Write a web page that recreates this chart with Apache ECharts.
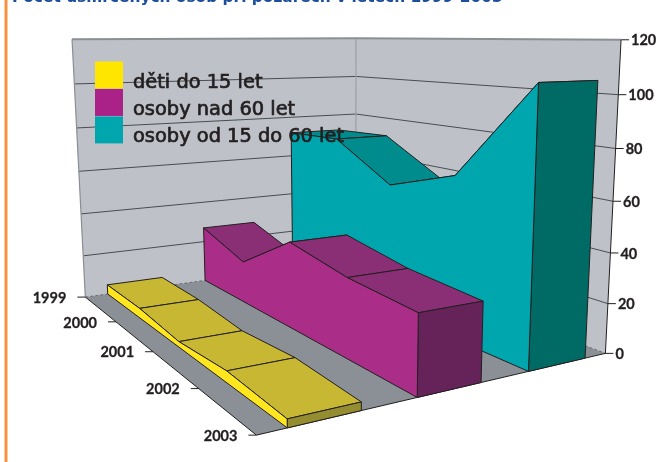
<!DOCTYPE html>
<html><head><meta charset="utf-8">
<style>html,body{margin:0;padding:0;background:#fff}#c{width:670px;height:462px}</style>
<script src="https://cdn.jsdelivr.net/npm/echarts@6/dist/echarts.min.js"></script>
</head><body><div id="c"></div>
<script>
const years = ['1999','2000','2001','2002','2003'];
const valueTicks = [0,20,40,60,80,100,120];
const children = [4.5,4.4,2.3,4.5,3];
const seniors = [27,19,37,32,30];
const adults = [72,73,57,67,105.5];
const seriesNames = ['děti do 15 let','osoby nad 60 let','osoby od 15 do 60 let'];
const titleText = 'Počet usmrcených osob při požárech v letech 1999-2003';

// Camera calibration of the 3D box: [year 0..1, depth 0..1, value 0..1] -> page
const calib = [
 [[0,0,0],[85,298]],[[1,0,0],[257,434]],[[1,1,0],[605,355]],[[0,1,0],[356,258]],
 [[0,0,1],[72,39]],[[0,1,1],[356,39]],[[1,1,1],[621,39]]
];
function solveCamera(pts){
  const A=[],b=[];
  pts.forEach(([[X,Y,Z],[x,y]])=>{
    x/=100;y/=100;
    A.push([X,Y,Z,1,0,0,0,0,-x*X,-x*Y,-x*Z]);b.push(x);
    A.push([0,0,0,0,X,Y,Z,1,-y*X,-y*Y,-y*Z]);b.push(y);
  });
  const n=11,M=[];
  for(let i=0;i<n;i++){M.push(new Array(n+1).fill(0));
    for(let j=0;j<n;j++)for(let r=0;r<A.length;r++)M[i][j]+=A[r][i]*A[r][j];
    for(let r=0;r<A.length;r++)M[i][n]+=A[r][i]*b[r];}
  for(let c=0;c<n;c++){let p=c;for(let r=c+1;r<n;r++)if(Math.abs(M[r][c])>Math.abs(M[p][c]))p=r;
    [M[c],M[p]]=[M[p],M[c]];
    for(let r=0;r<n;r++)if(r!==c){const f=M[r][c]/M[c][c];for(let k=c;k<=n;k++)M[r][k]-=f*M[c][k];}}
  return M.map((row,i)=>row[n]/row[i]);
}
const P=solveCamera(calib);
function proj(X,Y,Z){
  const d=P[8]*X+P[9]*Y+P[10]*Z+1;
  return [100*(P[0]*X+P[1]*Y+P[2]*Z+P[3])/d,100*(P[4]*X+P[5]*Y+P[6]*Z+P[7])/d];
}
const maxV=120;
const U=i=>i/(years.length-1);
const pt=(i,w,v)=>proj(U(i),w,v/maxV);
const LINE='#231f20';
function poly(points,fill,stroke,lw){return {type:'polygon',silent:true,shape:{points},style:{fill:fill,stroke:stroke||null,lineWidth:lw===undefined?1:lw,lineJoin:'round'}};}
function line(a,b,stroke,lw,dash){return {type:'line',silent:true,shape:{x1:a[0],y1:a[1],x2:b[0],y2:b[1]},style:{stroke,lineWidth:lw||1,lineDash:dash||null}};}
function txt(x,y,t,align,font){return {type:'text',silent:true,style:{x,y,text:t,align,verticalAlign:'middle',fill:LINE,font,stroke:LINE,lineWidth:0.3}};}

function renderBox(params,api){
  const ch=[];
  const wall='#bec2c8',floor='#8a9095',edge='#8b8e93';
  ch.push(poly([proj(0,0,0),proj(0,1,0),proj(0,1,1),proj(0,0,1)],wall));
  ch.push(poly([proj(0,1,0),proj(1,1,0),proj(1,1,1),proj(0,1,1)],wall));
  ch.push(poly([proj(0,0,0),proj(1,0,0),proj(1,1,0),proj(0,1,0)],floor));
  valueTicks.forEach(v=>{ if(v===0||v===maxV)return;
    ch.push(line(proj(0,0,v/maxV),proj(0,1,v/maxV),'#4a4c50',1));
    ch.push(line(proj(0,1,v/maxV),proj(1,1,v/maxV),'#4a4c50',1));
  });
  ch.push(line(proj(0,0,0),proj(0,0,1),edge,1.2));
  ch.push(line(proj(0,1,0),proj(0,1,1),'#9a9da2',1.2));
  ch.push(line(proj(0,0,1),proj(0,1,1),edge,2));
  ch.push(line(proj(0,1,1),proj(1,1,1),edge,2));
  ch.push(line(proj(0,0,0),proj(0,1,0),'#6b6e72',1,[3,2]));
  ch.push(line(proj(0,1,0),proj(1,1,0),'#6b6e72',1,[3,2]));
  ch.push(line(proj(0,0,0),proj(1,0,0),LINE,1));
  ch.push(line(proj(1,0,0),proj(1,1,0),LINE,1));
  ch.push(line(proj(1,1,0),proj(1,1,1),LINE,1));
  const font='bold 14.5px Lato';
  valueTicks.forEach(v=>{const p=proj(1,1,v/maxV);
    ch.push(line(p,[p[0]+8,p[1]],LINE,1));
    ch.push(txt(p[0]+10,p[1]+1,String(v),'left',font));
  });
  years.forEach((y,i)=>{const p=proj(U(i),0,0);
    ch.push(line([p[0]-8,p[1]],p,LINE,1));
    ch.push(txt(p[0]-19,p[1]+1,y,'right',font));
  });
  return {type:'group',children:ch};
}
function areaRenderer(vals,w0,w1,cols){
  return function(params,api){
    const i=params.dataIndex,v=api.value(1),ch=[];
    if(i<vals.length-1){
      const n=vals[i+1];
      ch.push(poly([pt(i,w0,v),pt(i+1,w0,n),pt(i+1,w1,n),pt(i,w1,v)],cols.top,LINE,1));
    }else{
      ch.push(poly([pt(i,w0,0),pt(i,w1,0),pt(i,w1,v),pt(i,w0,v)],cols.side,LINE,1));
      const pts=[pt(0,w0,0)];
      vals.forEach((val,k)=>pts.push(pt(k,w0,val)));
      pts.push(pt(i,w0,0));
      ch.push(poly(pts,cols.front,LINE,1));
    }
    return {type:'group',children:ch};
  };
}
const yData=a=>a.map((v,i)=>[i,v]);
const bands=[[.0717,.255],[.405,.59],[.738,.928]];
const chart=echarts.init(document.getElementById('c'),null,{renderer:'canvas'});
chart.setOption({
  animation:false,backgroundColor:'#fff',
  title:{text:titleText,left:12,top:-10,padding:0,textStyle:{fontFamily:'DejaVu Sans',fontWeight:'bold',fontSize:15.4,color:'#1d4e9e'}},
  legend:{show:true,orient:'vertical',left:95,top:58,padding:0,itemWidth:28,itemHeight:27,itemGap:-6.9,icon:'rect',selectedMode:false,
    data:seriesNames,itemStyle:{borderWidth:0},
    formatter:n=>'{a|'+n+'}',
    textStyle:{rich:{a:{fontFamily:'DejaVu Sans',fontWeight:'normal',fontSize:19.4,color:LINE,lineHeight:13,padding:[15,0,0,5],textBorderColor:LINE,textBorderWidth:0.7}}}},
  graphic:[{type:'rect',shape:{x:4.5,y:0,width:3,height:462},style:{fill:'#f7923e'}}],
  series:[
    {type:'custom',name:'box',coordinateSystem:'none',renderItem:renderBox,data:[[0]],silent:true,z:1},
    {type:'custom',name:seriesNames[2],coordinateSystem:'none',data:yData(adults),renderItem:areaRenderer(adults,bands[2][0],bands[2][1],{front:'#00a6ad',top:'#008c8c',side:'#006a65'}),itemStyle:{color:'#00a6ad'},silent:true,z:2},
    {type:'custom',name:seriesNames[1],coordinateSystem:'none',data:yData(seniors),renderItem:areaRenderer(seniors,bands[1][0],bands[1][1],{front:'#aa2d88',top:'#8a2f75',side:'#66235a'}),itemStyle:{color:'#aa2288'},silent:true,z:3},
    {type:'custom',name:seriesNames[0],coordinateSystem:'none',data:yData(children),renderItem:areaRenderer(children,bands[0][0],bands[0][1],{front:'#ffe61e',top:'#c7b732',side:'#958e30'}),itemStyle:{color:'#ffe600'},silent:true,z:4}
  ]
});
</script></body></html>
